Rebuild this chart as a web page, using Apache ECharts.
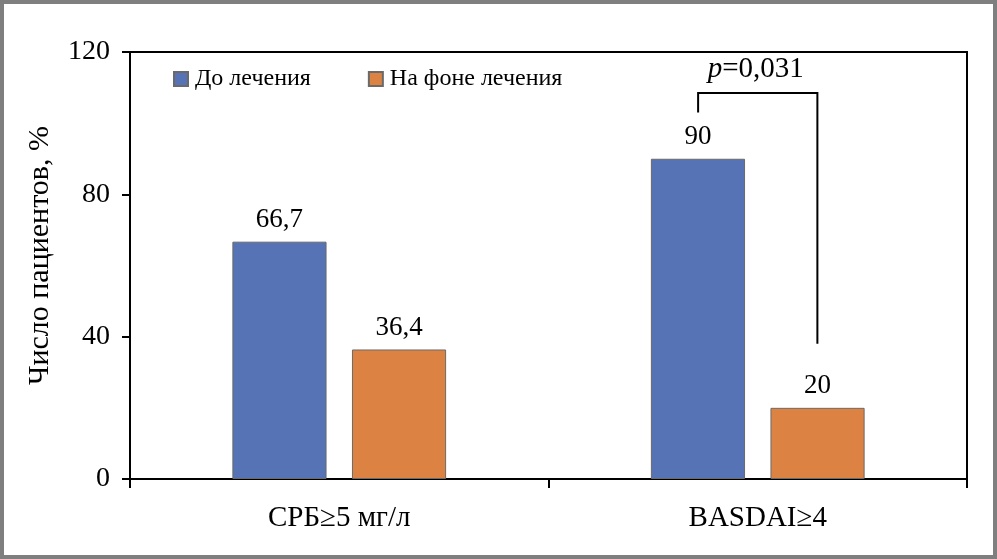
<!DOCTYPE html>
<html><head><meta charset="utf-8">
<script src="https://cdn.jsdelivr.net/npm/echarts@6/dist/echarts.min.js"></script>
<style>
html,body{margin:0;padding:0;background:#fff;}
#c{width:989px;height:551px;border:4px solid #7f7f7f;background:#fff;}
</style></head>
<body><div id="c"></div>
<script>
const categories = ['СРБ≥5 мг/л', 'BASDAI≥4'];
const seriesNames = ['До лечения', 'На фоне лечения'];
const beforeValues = [66.7, 90];
const afterValues = [36.4, 20];
const yTicks = [0, 40, 80, 120];
const pText = '0,031';
// bracket: [category index, top value, left leg end, right leg end, label value]
const bracket = [[1, 108.5, 103, 38, 115]];

const FONT = 'Liberation Serif';
const chart = echarts.init(document.getElementById('c'));
const labelFmt = p => String(p.value).replace('.', ',');
const BAR_W = '22.5%';
const GAP = '27%';

chart.setOption({
  animation: false,
  grid: {left: 126, top: 48, right: 26, bottom: 76, show: true, borderColor: '#000', borderWidth: 2, backgroundColor: 'transparent'},
  legend: {
    left: 164, top: 58, itemWidth: 14, itemHeight: 14, itemGap: 57,
    icon: 'rect',
    textStyle: {fontFamily: FONT, fontSize: 24, color: '#000', padding: [0, 0, 0, 2]},
    data: seriesNames
  },
  xAxis: {
    type: 'category', data: categories,
    axisLine: {lineStyle: {color: '#000', width: 2}},
    axisTick: {show: true, length: 9, lineStyle: {color: '#000', width: 2}},
    axisLabel: {fontFamily: FONT, fontSize: 29, color: '#000', margin: 25}
  },
  yAxis: {
    type: 'value', min: 0, max: 120, interval: 40,
    name: 'Число пациентов, %', nameLocation: 'middle', nameRotate: 90, nameGap: 75,
    nameTextStyle: {fontFamily: FONT, fontSize: 30, color: '#000', padding: [0, 0, 0, 20]},
    axisLine: {show: true, lineStyle: {color: '#000', width: 2}},
    axisTick: {show: true, length: 8, lineStyle: {color: '#000', width: 2}},
    splitLine: {show: false},
    axisLabel: {fontFamily: FONT, fontSize: 28, color: '#000', margin: 20,
      formatter: v => yTicks.includes(v) ? String(v) : ''}
  },
  series: [
    {name: seriesNames[0], type: 'bar', data: beforeValues, barWidth: BAR_W, barGap: GAP,
     itemStyle: {color: '#5573b5', borderColor: '#6a6a6a', borderWidth: 1},
     label: {show: true, position: 'top', distance: 8, formatter: labelFmt, fontFamily: FONT, fontSize: 27, color: '#000'}},
    {name: seriesNames[1], type: 'bar', data: afterValues, barWidth: BAR_W, barGap: GAP,
     itemStyle: {color: '#dc8243', borderColor: '#6a6a6a', borderWidth: 1},
     label: {show: true, position: 'top', distance: 8, formatter: labelFmt, fontFamily: FONT, fontSize: 27, color: '#000'}},
    {type: 'custom', data: bracket, silent: true, z: 5,
     renderItem: function (params, api) {
       const ci = api.value(0);
       const c = api.coord([ci, 0]);
       const bw = api.size([1, 0])[0];
       const off = bw * 0.1425;
       const xl = c[0] - off, xr = c[0] + off;
       const yt = api.coord([ci, api.value(1)])[1];
       const yl = api.coord([ci, api.value(2)])[1];
       const yr = api.coord([ci, api.value(3)])[1];
       const ytxt = api.coord([ci, api.value(4)])[1];
       return {type: 'group', children: [
         {type: 'polyline', shape: {points: [[xl, yl], [xl, yt], [xr, yt], [xr, yr]]},
          style: {stroke: '#000', lineWidth: 2, fill: null}},
         {type: 'text', x: c[0] - 2, y: ytxt,
          style: {text: '{i|p}=' + pText, align: 'center', verticalAlign: 'middle',
            fontFamily: FONT, fontSize: 29, fill: '#000',
            rich: {i: {fontStyle: 'italic', fontFamily: FONT, fontSize: 29}}}}
       ]};
     }}
  ]
});
</script></body></html>
